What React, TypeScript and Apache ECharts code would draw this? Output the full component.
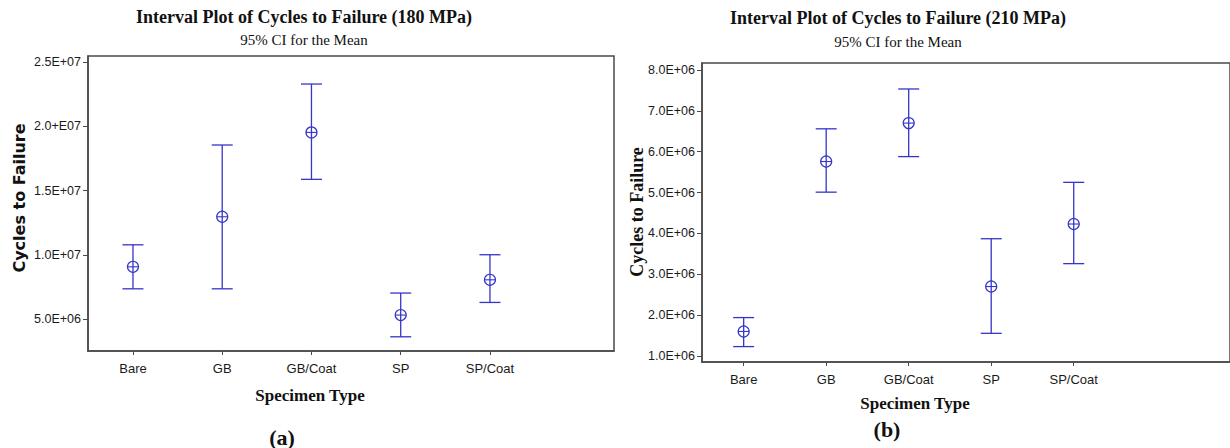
import React, { useEffect, useRef } from "react";
import * as echarts from "echarts";

const categories = ["Bare", "GB", "GB/Coat", "SP", "SP/Coat"];

// 180 MPa panel (a)
const mean180 = [9.08e6, 1.297e7, 1.953e7, 5.33e6, 8.07e6];
const lower180 = [7.37e6, 7.37e6, 1.588e7, 3.64e6, 6.31e6];
const upper180 = [1.079e7, 1.855e7, 2.329e7, 7.04e6, 1.002e7];
const yTicks180 = [5e6, 1e7, 1.5e7, 2e7, 2.5e7];
const yTickLabels180 = ["5.0E+06", "1.0E+07", "1.5E+07", "2.0+E07", "2.5E+07"];

// 210 MPa panel (b)
const mean210 = [1.6e6, 5.76e6, 6.7e6, 2.7e6, 4.23e6];
const lower210 = [1.23e6, 5.01e6, 5.88e6, 1.555e6, 3.26e6];
const upper210 = [1.94e6, 6.56e6, 7.535e6, 3.87e6, 5.25e6];
const yTicks210 = [1e6, 2e6, 3e6, 4e6, 5e6, 6e6, 7e6, 8e6];
const yTickLabels210 = ["1.0E+06", "2.0E+06", "3.0E+06", "4.0E+06", "5.0E+06", "6.0E+06", "7.0E+06", "8.0E+06"];

const BAR_COLOR = "#3535c8";
const AXIS_COLOR = "#4a4a4a";
const SANS = "Liberation Sans";
const SERIF = "Liberation Serif";

function labelFor(ticks: number[], labels: string[]) {
  return (v: number) => {
    let best = 0;
    for (let i = 1; i < ticks.length; i++) {
      if (Math.abs(ticks[i] - v) < Math.abs(ticks[best] - v)) best = i;
    }
    return labels[best];
  };
}

function renderInterval(params: any, api: any) {
  const x = api.value(0);
  const lo = api.coord([x, api.value(1)]);
  const mid = api.coord([x, api.value(2)]);
  const hi = api.coord([x, api.value(3)]);
  const hw = 10.5;
  const r = 5.5;
  const st = { stroke: BAR_COLOR, lineWidth: 1.3, fill: "none" };
  return {
    type: "group",
    children: [
      { type: "line", shape: { x1: hi[0], y1: hi[1], x2: lo[0], y2: lo[1] }, style: st },
      { type: "line", shape: { x1: hi[0] - hw, y1: hi[1], x2: hi[0] + hw, y2: hi[1] }, style: st },
      { type: "line", shape: { x1: lo[0] - hw, y1: lo[1], x2: lo[0] + hw, y2: lo[1] }, style: st },
      { type: "circle", shape: { cx: mid[0], cy: mid[1], r }, style: { stroke: BAR_COLOR, lineWidth: 1.2, fill: "none" } },
      { type: "line", shape: { x1: mid[0] - r, y1: mid[1], x2: mid[0] + r, y2: mid[1] }, style: { stroke: BAR_COLOR, lineWidth: 1.1 } },
    ],
  };
}

function xAxisCfg(gridIndex: number, min: number, max: number) {
  return {
    type: "value",
    gridIndex,
    min,
    max,
    splitLine: { show: false },
    axisLine: { show: true, onZero: false, lineStyle: { color: AXIS_COLOR, width: 1.5 } },
    axisTick: { show: true, length: 4, customValues: [0, 1, 2, 3, 4], lineStyle: { color: AXIS_COLOR } },
    axisLabel: {
      customValues: [0, 1, 2, 3, 4],
      formatter: (v: number) => categories[Math.round(v)] ?? "",
      color: "#1a1a1a",
      fontFamily: SANS,
      fontSize: 13,
      margin: 11,
    },
  };
}

function yAxisCfg(gridIndex: number, min: number, max: number, ticks: number[], labels: string[]) {
  return {
    type: "value",
    gridIndex,
    min,
    max,
    splitLine: { show: false },
    axisLine: { show: true, onZero: false, lineStyle: { color: AXIS_COLOR, width: 1.5 } },
    axisTick: { show: true, length: 5, customValues: ticks, lineStyle: { color: AXIS_COLOR } },
    axisLabel: {
      customValues: ticks,
      formatter: labelFor(ticks, labels),
      color: "#1a1a1a",
      fontFamily: SANS,
      fontSize: 12.5,
      margin: 7,
    },
  };
}

function text(x: number, y: number, t: string, font: string, size: number, bold: boolean, rotation = 0) {
  return {
    type: "text",
    x,
    y,
    rotation,
    style: {
      text: t,
      fill: "#111",
      fontFamily: font,
      fontSize: size,
      fontWeight: bold ? "bold" : "normal",
      align: "center",
      verticalAlign: "middle",
    },
  };
}

export default function App() {
  const ref = useRef<HTMLDivElement>(null);
  useEffect(() => {
    if (!ref.current) return;
    const chart = echarts.init(ref.current, null, { renderer: "svg" });
    const data180 = categories.map((_, i) => [i, lower180[i], mean180[i], upper180[i]]);
    const data210 = categories.map((_, i) => [i, lower210[i], mean210[i], upper210[i]]);
    chart.setOption({
      animation: false,
      backgroundColor: "#ffffff",
      grid: [
        { left: 88, top: 56, width: 526, height: 295, show: true, borderColor: AXIS_COLOR, borderWidth: 1.5 },
        { left: 702, top: 63, width: 545, height: 299, show: true, borderColor: AXIS_COLOR, borderWidth: 1.5 },
      ],
      xAxis: [xAxisCfg(0, -0.504, 5.39), xAxisCfg(1, -0.505, 5.894)],
      yAxis: [
        yAxisCfg(0, 2.535e6, 2.547e7, yTicks180, yTickLabels180),
        yAxisCfg(1, 0.853e6, 8.171e6, yTicks210, yTickLabels210),
      ],
      series: [
        { type: "custom", xAxisIndex: 0, yAxisIndex: 0, renderItem: renderInterval, data: data180, encode: { x: 0, y: [1, 2, 3] }, clip: false },
        { type: "custom", xAxisIndex: 1, yAxisIndex: 1, renderItem: renderInterval, data: data210, encode: { x: 0, y: [1, 2, 3] }, clip: false },
      ],
      graphic: [
        text(304, 17, "Interval Plot of Cycles to Failure (180 MPa)", SERIF, 18, true),
        text(304, 40, "95% CI for the Mean", SERIF, 15, false),
        text(898, 18, "Interval Plot of Cycles to Failure (210 MPa)", SERIF, 18, true),
        text(898, 42, "95% CI for the Mean", SERIF, 15, false),
        text(19, 198, "Cycles to Failure", "DejaVu Sans", 16, true, Math.PI / 2),
        text(637, 212, "Cycles to Failure", SERIF, 18, true, Math.PI / 2),
        text(310, 395, "Specimen Type", SERIF, 17, true),
        text(915, 403, "Specimen Type", SERIF, 17, true),
        text(282, 437, "(a)", SERIF, 22, true),
        text(887, 429, "(b)", SERIF, 22, true),
      ],
    });
    return () => chart.dispose();
  }, []);
  return <div ref={ref} style={{ position: "absolute", left: 0, top: 0, width: 1230, height: 448 }} />;
}
